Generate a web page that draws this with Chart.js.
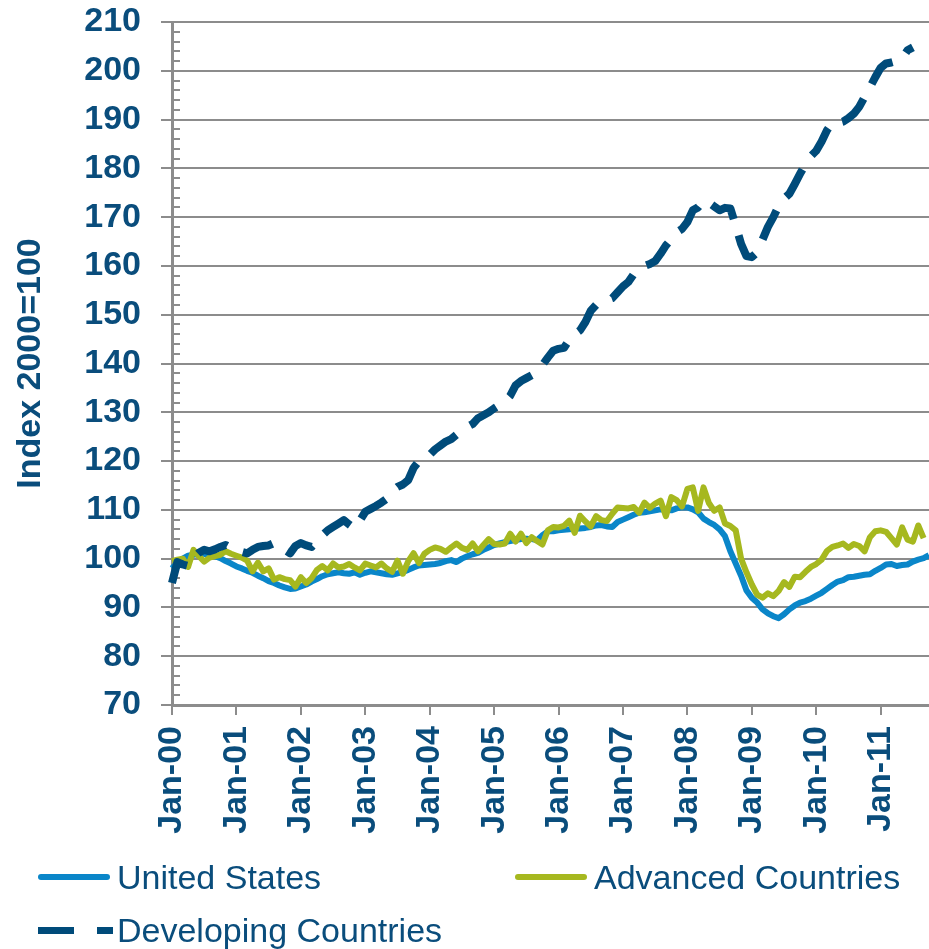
<!DOCTYPE html>
<html>
<head>
<meta charset="utf-8">
<script src="https://cdn.jsdelivr.net/npm/chart.js@4.4.1/dist/chart.umd.min.js"></script>
<style>
  html, body { margin: 0; padding: 0; background: #ffffff; }
  #wrap { position: relative; width: 929px; height: 949px; }
  #legend { position: absolute; left: 0; top: 0; width: 929px; height: 949px; pointer-events: none;
            font-family: "Liberation Sans", Arial, sans-serif; font-size: 34px; color: #0a4d7c; }
  .sw { position: absolute; }
  .lbl { position: absolute; line-height: 40px; white-space: nowrap; }
</style>
</head>
<body>
<div id="wrap">
  <canvas id="c" width="929" height="949"></canvas>
  <div id="legend"></div>
</div>
<script>
// ---------- DATA ----------
const MONTHS = ['Jan','Feb','Mar','Apr','May','Jun','Jul','Aug','Sep','Oct','Nov','Dec'];
const YEARS = ['00','01','02','03','04','05','06','07','08','09','10','11'];
const LAST_MONTH_2011 = 10; // Jan-11 .. Oct-11
const categories = [];
YEARS.forEach((yy, yi) => {
  const n = (yi === YEARS.length - 1) ? LAST_MONTH_2011 : 12;
  for (let m = 0; m < n; m++) categories.push(MONTHS[m] + '-' + yy);
});

const seriesNames = ['United States', 'Advanced Countries', 'Developing Countries'];

const unitedStates = [
  98.0, 99.2, 100.0, 100.6, 100.8, 101.0, 101.0, 100.7, 100.5, 100.1, 99.5, 99.0,
  98.4, 98.0, 97.5, 97.1, 96.5, 96.0, 95.4, 95.0, 94.5, 94.1, 93.8, 93.9,
  94.3, 94.7, 95.3, 95.8, 96.4, 96.8, 97.0, 97.2, 97.0, 96.9, 97.2, 96.7,
  97.1, 97.4, 97.2, 97.0, 96.8, 96.7, 97.0, 97.3, 97.7, 98.2, 98.6, 98.7,
  98.8, 98.9, 99.1, 99.5, 99.7, 99.3, 100.0, 100.5, 100.9, 101.2, 101.8, 102.3,
  102.8, 103.1, 103.4, 103.6, 103.8, 104.0, 104.1, 104.0, 103.8, 104.8, 105.6, 105.6,
  105.8, 105.9, 106.0, 106.1, 106.2, 106.3, 106.5, 106.8, 106.9, 106.6, 106.5, 107.5,
  108.0, 108.5, 109.0, 109.4, 109.5, 109.7, 109.9, 110.1, 110.0, 109.9, 110.3, 110.5,
  110.5, 110.1, 109.5, 108.2, 107.5, 106.9, 106.0, 104.6, 101.5, 99.0, 96.5, 93.5,
  92.0, 91.0, 89.6, 88.8, 88.2, 87.8, 88.6, 89.6, 90.4, 91.0, 91.3, 91.8,
  92.4, 93.0, 93.8, 94.6, 95.3, 95.6, 96.2, 96.3, 96.5, 96.7, 96.8, 97.5,
  98.1, 98.8, 98.9, 98.5, 98.7, 98.8, 99.4, 99.8, 100.1, 100.7
];

const advancedCountries = [
  99.5, 99.8, 100.0, 98.3, 101.8, 100.5, 99.4, 100.2, 100.5, 100.8, 101.5, 101.0,
  100.6, 100.2, 99.6, 97.4, 99.2, 97.4, 98.0, 95.7, 96.2, 95.8, 95.6, 94.3,
  96.2, 95.0, 96.0, 97.7, 98.5, 97.6, 99.0, 98.2, 98.4, 98.9, 98.2, 97.6,
  99.0, 98.6, 98.2, 99.0, 98.0, 97.3, 99.6, 96.9, 99.5, 101.1, 99.1, 101.0,
  101.8, 102.3, 102.0, 101.4, 102.3, 103.1, 102.2, 101.8, 103.1, 101.5, 102.8, 104.0,
  103.0, 102.9, 103.1, 105.1, 103.5, 105.1, 103.2, 104.4, 103.6, 102.9, 105.8, 106.5,
  106.4, 106.7, 107.8, 105.3, 108.8, 107.6, 106.6, 108.7, 107.9, 107.7, 109.2, 110.5,
  110.4, 110.3, 110.6, 109.4, 111.5, 110.4, 111.3, 111.9, 108.7, 112.6, 112.0, 110.7,
  114.3, 114.6, 109.8, 114.6, 111.4, 109.8, 110.5, 107.2, 106.7, 105.8, 100.0, 97.2,
  94.7, 92.6, 92.0, 92.9, 92.3, 93.4, 95.2, 94.2, 96.3, 96.2, 97.3, 98.3,
  98.9, 99.8, 101.6, 102.4, 102.7, 103.1, 102.2, 103.0, 102.6, 101.5, 104.4, 105.6,
  105.8, 105.5, 104.2, 102.9, 106.4, 103.9, 103.5, 106.8, 104.2, null
];

const developingCountries = [
  95.0, 99.3, 98.8, 98.5, 100.2, 101.2, 101.8, 101.5, 101.9, 102.4, 102.8, 102.2,
  101.6, 101.4, 101.1, 101.8, 102.4, 102.6, 102.7, 103.2, 102.6, 101.8, 101.1, 102.6,
  103.2, 102.7, 102.4, 103.6, 104.8, 105.8, 106.5, 107.2, 107.9, 107.0, 106.2, 107.8,
  109.6, 110.2, 110.8, 111.5, 112.3, 113.8, 114.7, 115.2, 116.1, 118.6, 120.0, 120.6,
  121.3, 122.4, 123.2, 124.0, 124.5, 125.4, 126.4, 127.0, 127.6, 128.8, 129.4, 130.0,
  130.8, 131.5, 132.2, 133.4, 135.5, 136.4, 137.0, 137.6, 138.6, 139.7, 141.2, 142.6,
  143.0, 143.2, 144.8, 146.0, 146.8, 148.5, 150.8, 152.0, 152.6, 153.0, 153.4, 154.6,
  155.8, 156.7, 158.3, 159.6, 160.0, 160.4, 161.0, 162.5, 164.2, 165.5, 166.9, 167.6,
  169.0, 171.4, 172.0, 173.4, 173.0, 172.2, 171.4, 171.9, 171.8, 168.3, 164.5, 162.0,
  161.8, 162.8, 165.4, 168.0, 170.0, 172.3, 173.8, 174.8, 176.8, 178.9, 180.9, 182.5,
  183.6, 185.5, 187.8, 189.4, 189.3, 189.6, 190.3, 191.2, 192.6, 194.6, 196.6, 198.7,
  200.6, 201.5, 201.7, 202.0, 202.6, 204.2, 204.8, null, null, null
];

const yTickMin = 70, yTickMax = 210, yTickStep = 10, yMinorStep = 2;
const axisTitle = 'Index 2000=100';

// ---------- STYLE ----------
const NAVY = '#0a4d7c';
const C_US = '#0a86c9';
const C_ADV = '#a6b81f';
const C_DEV = '#004b7a';
const GRID = '#8c8c8c';
const FONT = '"Liberation Sans", Arial, sans-serif';

const minorTicks = {
  id: 'minorTicks',
  beforeDatasetsDraw(chart) {
    const ys = chart.scales.y, ctx = chart.ctx, left = chart.chartArea.left;
    ctx.save();
    ctx.strokeStyle = GRID;
    ctx.lineWidth = 2;
    for (let v = yTickMin; v <= yTickMax; v += yMinorStep) {
      if (v % yTickStep === 0) continue;
      const py = Math.round(ys.getPixelForValue(v));
      ctx.beginPath();
      ctx.moveTo(left, py);
      ctx.lineTo(left + 8, py);
      ctx.stroke();
    }
    ctx.restore();
  }
};

new Chart(document.getElementById('c'), {
  type: 'line',
  data: {
    labels: categories,
    datasets: [
      { label: seriesNames[0], data: unitedStates, borderColor: C_US, borderWidth: 6, order: 3 },
      { label: seriesNames[1], data: advancedCountries, borderColor: C_ADV, borderWidth: 6, order: 2 },
      { label: seriesNames[2], data: developingCountries, borderColor: C_DEV, borderWidth: 8,
        borderDash: [32, 17], borderCapStyle: 'butt', order: 1 }
    ]
  },
  options: {
    responsive: false,
    animation: false,
    events: [],
    layout: { padding: { top: 22, left: 0, right: 0, bottom: 104 } },
    elements: {
      point: { radius: 0 },
      line: { tension: 0, borderJoinStyle: 'round', fill: false }
    },
    plugins: { legend: { display: false }, tooltip: { enabled: false } },
    scales: {
      x: {
        type: 'category',
        afterBuildTicks(scale) {
          scale.ticks = scale.ticks.filter(t => categories[t.value] && categories[t.value].startsWith('Jan'));
        },
        afterFit(scale) { scale.height = 140; scale.paddingLeft = 0; scale.paddingRight = 0; },
        ticks: {
          autoSkip: false, minRotation: 90, maxRotation: 90, padding: 11,
          color: NAVY, font: { family: FONT, size: 34, weight: 'bold' }
        },
        grid: { display: true, drawOnChartArea: false, drawTicks: true, tickLength: 10, color: GRID, lineWidth: 2 },
        border: { display: true, color: GRID, width: 3 }
      },
      y: {
        min: yTickMin, max: yTickMax,
        afterFit(scale) { scale.width = 172; scale.paddingTop = 0; scale.paddingBottom = 0; },
        ticks: {
          stepSize: yTickStep, padding: 20,
          color: NAVY, font: { family: FONT, size: 34, weight: 'bold' }
        },
        grid: { color: GRID, lineWidth: 2, tickLength: 11 },
        border: { display: true, color: GRID, width: 3 },
        title: {
          display: true, text: axisTitle, color: NAVY,
          font: { family: FONT, size: 34, weight: 'bold' },
          padding: { top: 10, bottom: 0 }
        }
      }
    }
  },
  plugins: [minorTicks]
});

// ---------- HTML legend ----------
const legendItems = [
  { name: seriesNames[0], color: C_US, dashed: false, x: 38, y: 877 },
  { name: seriesNames[1], color: C_ADV, dashed: false, x: 515, y: 877 },
  { name: seriesNames[2], color: C_DEV, dashed: true, x: 38, y: 930 }
];
const leg = document.getElementById('legend');
legendItems.forEach(it => {
  if (it.dashed) {
    [[0, 36], [59, 16]].forEach(([dx, w]) => {
      const s = document.createElement('div');
      s.className = 'sw';
      s.style.cssText = `left:${it.x + dx}px;top:${it.y - 3.5}px;width:${w}px;height:7px;background:${it.color};`;
      leg.appendChild(s);
    });
  } else {
    const s = document.createElement('div');
    s.className = 'sw';
    s.style.cssText = `left:${it.x}px;top:${it.y - 3}px;width:72px;height:6px;border-radius:3px;background:${it.color};`;
    leg.appendChild(s);
  }
  const t = document.createElement('div');
  t.className = 'lbl';
  t.textContent = it.name;
  t.style.left = (it.x + 79) + 'px';
  t.style.top = (it.y - 20) + 'px';
  leg.appendChild(t);
});
</script>
</body>
</html>
